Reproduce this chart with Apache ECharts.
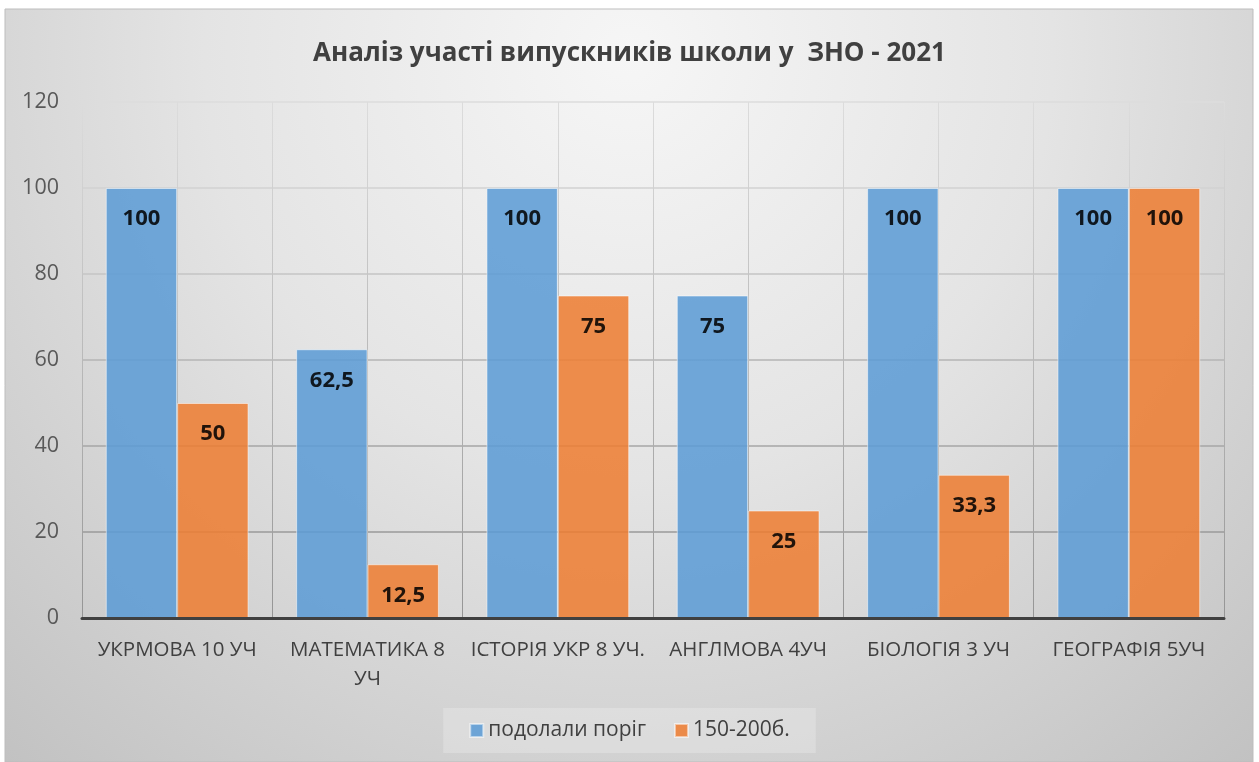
<!DOCTYPE html>
<html>
<head>
<meta charset="utf-8">
<script src="https://cdn.jsdelivr.net/npm/echarts@6/dist/echarts.min.js"></script>
<style>
html,body{margin:0;padding:0;background:#fff;}
#chart{width:1259px;height:762px;}
</style>
</head>
<body>
<div id="chart"></div>
<script>
const titleText = 'Аналіз участі випускників школи у  ЗНО - 2021';
const categories = ['УКРМОВА 10 УЧ', 'МАТЕМАТИКА 8 УЧ', 'ІСТОРІЯ УКР 8 УЧ.', 'АНГЛМОВА 4УЧ', 'БІОЛОГІЯ 3 УЧ', 'ГЕОГРАФІЯ 5УЧ'];
const seriesNames = ['подолали поріг', '150-200б.'];
const passedThreshold = [100, 62.5, 100, 75, 100, 100];
const score150to200 = [50, 12.5, 75, 25, 33.3, 100];
const yTicks = { min: 0, max: 120, interval: 20 };

const chart = echarts.init(document.getElementById('chart'), null, { renderer: 'canvas' });
const fontFamily = '"Open Sans", "Noto Sans", sans-serif';
const fmt = p => String(p.value).replace('.', ',');

const xLabelSize = 20.5;
const measureCtx = document.createElement('canvas').getContext('2d');
function wrapLabel(text) {
  measureCtx.font = xLabelSize + 'px ' + fontFamily;
  const maxW = 180;
  const words = text.split(' ');
  const lines = [];
  let cur = '';
  for (const w of words) {
    const cand = cur ? cur + ' ' + w : w;
    if (cur && measureCtx.measureText(cand).width > maxW) {
      lines.push(cur);
      cur = w;
    } else {
      cur = cand;
    }
  }
  if (cur) lines.push(cur);
  return lines.join('\n');
}

const option = {
  backgroundColor: '#ffffff',
  graphic: [{
    type: 'rect',
    z: -10,
    silent: true,
    shape: { x: 5, y: 9, width: 1248, height: 753 },
    style: {
      fill: {
        type: 'radial', x: 0.5, y: 0.06, r: 1.25,
        colorStops: [
          { offset: 0, color: '#f6f6f6' },
          { offset: 0.45, color: '#e4e4e4' },
          { offset: 1, color: '#c2c2c2' }
        ]
      },
      stroke: '#bdbdbd',
      lineWidth: 1
    }
  }],
  title: {
    text: titleText,
    left: 'center',
    top: 36,
    textStyle: { fontFamily, fontSize: 26, fontWeight: 'bold', color: '#404040' }
  },
  legend: {
    data: seriesNames,
    left: 'center',
    top: 708,
    icon: 'rect',
    itemWidth: 13,
    itemHeight: 13,
    itemGap: 28,
    padding: [12, 26, 12, 26],
    backgroundColor: 'rgba(255,255,255,0.22)',
    textStyle: { fontFamily, fontSize: 21, color: '#404040' }
  },
  grid: { left: 82, right: 35, top: 102, bottom: 144, containLabel: false },
  xAxis: [{
    type: 'category',
    data: categories,
    axisLine: { show: true, lineStyle: { color: '#404040', width: 3 } },
    axisTick: { show: false },
    splitLine: { show: false },
    axisLabel: {
      fontFamily, fontSize: xLabelSize, color: '#404040', margin: 18,
      interval: 0, lineHeight: 29, formatter: wrapLabel
    },
    z: 5
  }, {
    type: 'value',
    min: 0, max: 12, interval: 1,
    position: 'bottom',
    axisLine: { show: false },
    axisTick: { show: false },
    axisLabel: { show: false },
    splitLine: {
      show: true,
      lineStyle: {
        width: 1,
        color: {
          type: 'linear', global: true, x: 0, y: 102, x2: 0, y2: 618,
          colorStops: [{ offset: 0, color: '#dcdcdc' }, { offset: 1, color: '#959595' }]
        }
      }
    }
  }],
  yAxis: {
    type: 'value',
    min: yTicks.min, max: yTicks.max, interval: yTicks.interval,
    axisLine: { show: false },
    axisTick: { show: false },
    axisLabel: { fontFamily, fontSize: 21.5, color: '#595959', margin: 23 },
    splitLine: {
      show: true,
      lineStyle: { width: 1.5, color: ['#909090', '#9a9a9a', '#a6a6a6', '#b4b4b4', '#c4c4c4', '#d2d2d2', '#dcdcdc'] }
    }
  },
  series: [{
    name: seriesNames[0],
    type: 'bar',
    xAxisIndex: 0,
    data: passedThreshold,
    barGap: '0%',
    barCategoryGap: '25%',
    itemStyle: { color: '#5b9bd5', opacity: 0.86, borderColor: 'rgba(255,255,255,0.6)', borderWidth: 1 },
    label: {
      show: true, position: 'insideTop', distance: 20, formatter: fmt,
      fontFamily, fontSize: 22, fontWeight: 'bold', color: '#000'
    },
    z: 3
  }, {
    name: seriesNames[1],
    type: 'bar',
    xAxisIndex: 0,
    data: score150to200,
    barGap: '0%',
    barCategoryGap: '25%',
    itemStyle: { color: '#ed7d31', opacity: 0.86, borderColor: 'rgba(255,255,255,0.6)', borderWidth: 1 },
    label: {
      show: true, position: 'insideTop', distance: 20, formatter: fmt,
      fontFamily, fontSize: 22, fontWeight: 'bold', color: '#000'
    },
    z: 3
  }]
};
chart.setOption(option);
</script>
</body>
</html>
